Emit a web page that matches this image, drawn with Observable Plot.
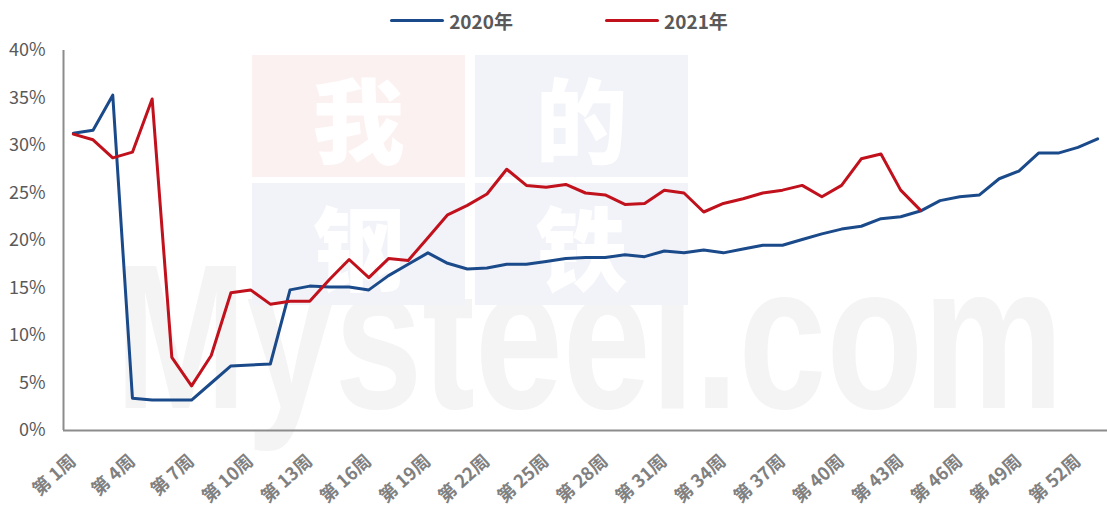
<!DOCTYPE html>
<html>
<head>
<meta charset="utf-8">
<script src="https://cdn.jsdelivr.net/npm/d3@7"></script>
<script src="https://cdn.jsdelivr.net/npm/@observablehq/plot@0.6"></script>
<style>
  html, body { margin: 0; padding: 0; background: #fff; }
  body { width: 1107px; height: 508px; position: relative; overflow: hidden;
         font-family: "Noto Sans CJK SC", "Noto Sans", sans-serif; }
  #legend { position: absolute; left: 0; top: 0; width: 1107px; height: 40px; z-index: 2;
            display: flex; justify-content: center; align-items: center;
            gap: 92px; font-size: 19px; font-weight: 600; color: #595959; padding-left: 11px; box-sizing: border-box; }
  .item { display: flex; align-items: center; gap: 5px; }
  .sw { width: 54px; height: 3px; border-radius: 2px; }
  #wm { position: absolute; left: 0; top: 0; width: 1107px; height: 508px; z-index: 0; pointer-events: none; }
  .box { position: absolute; width: 213px; height: 122px; display: flex; align-items: center; justify-content: center;
         color: #fff; font-size: 92px; font-weight: 900; line-height: 1; }
  #mys { position: absolute; left: 115px; top: 234px; font-size: 158px; font-weight: 700; color: #f4f4f4;
         font-family: "Liberation Sans", Arial, sans-serif; line-height: 1; white-space: nowrap;
         transform: scaleY(1.3); transform-origin: top left; }
  #chart { position: absolute; left: 0; top: 0; z-index: 1; }
</style>
</head>
<body>
<div id="wm">
  <div id="mys">Mysteel.com</div>
  <div class="box" style="left:252px;top:55px;background:#fcf1f1;">我</div>
  <div class="box" style="left:475px;top:55px;background:#f2f3f8;">的</div>
  <div class="box" style="left:252px;top:183px;background:#f2f3f8;">钢</div>
  <div class="box" style="left:475px;top:183px;background:#f2f3f8;">铁</div>
</div>
<div id="chart"></div>
<div id="legend"></div>
<script>
const weeks2020 = d3.range(1, 54);
const weeks2021 = d3.range(1, 45);
const values2020 = [31.3, 31.6, 35.3, 3.4, 3.2, 3.2, 3.2, 5.0, 6.8, 6.9,
  7.0, 14.8, 15.2, 15.1, 15.1, 14.8, 16.3, 17.5, 18.7, 17.6,
  17.0, 17.1, 17.5, 17.5, 17.8, 18.1, 18.2, 18.2, 18.5, 18.3,
  18.9, 18.7, 19.0, 18.7, 19.1, 19.5, 19.5, 20.1, 20.7, 21.2,
  21.5, 22.3, 22.5, 23.1, 24.2, 24.6, 24.8, 26.5, 27.3, 29.2,
  29.2, 29.8, 30.7];
const values2021 = [31.2, 30.6, 28.7, 29.3, 34.9, 7.7, 4.7, 7.9, 14.5, 14.8,
  13.3, 13.6, 13.6, 15.9, 18.0, 16.1, 18.1, 17.9, 20.3, 22.7,
  23.7, 24.9, 27.5, 25.8, 25.6, 25.9, 25.0, 24.8, 23.8, 23.9,
  25.3, 25.0, 23.0, 23.9, 24.4, 25.0, 25.3, 25.8, 24.6, 25.8,
  28.6, 29.1, 25.3, 23.2];
const seriesNames = ["2020年", "2021年"];
const seriesColors = ["#1b4a8a", "#c0111c"];
const tickWeeks = d3.range(1, 54, 3);
const yTicks = [0, 5, 10, 15, 20, 25, 30, 35, 40];

const rows = [
  ...weeks2020.map((w, i) => ({week: w, value: values2020[i], series: seriesNames[0]})),
  ...weeks2021.map((w, i) => ({week: w, value: values2021[i], series: seriesNames[1]}))
];

// legend
const legend = document.getElementById("legend");
seriesNames.forEach((n, i) => {
  const it = document.createElement("div");
  it.className = "item";
  it.innerHTML = `<span class="sw" style="background:${seriesColors[i]}"></span><span>${n}</span>`;
  legend.appendChild(it);
});

const chart = Plot.plot({
  width: 1107,
  height: 508,
  marginTop: 50,
  marginBottom: 78,
  marginLeft: 63,
  marginRight: 0,
  style: {background: "transparent", fontFamily: "'Noto Sans CJK SC', 'Noto Sans', sans-serif", color: "#595959"},
  x: {domain: [0.5, 53.5], label: null},
  y: {domain: [0, 40], label: null},
  color: {domain: seriesNames, range: seriesColors},
  marks: [
    Plot.axisY({ticks: yTicks, tickFormat: d => `${d}%`, tickSize: 0, tickPadding: 18, fontSize: 18, label: null, fill: "#595959"}),
    Plot.axisX({ticks: tickWeeks, tickFormat: d => `第 ${d}周`, tickSize: 0, tickPadding: 28, tickRotate: -42, fontSize: 18, fontWeight: "bold", label: null, fill: "#808080"}),
    Plot.ruleY([0], {stroke: "#8c8c8c", strokeWidth: 2}),
    Plot.ruleX([0.5], {y1: 0, y2: 40, stroke: "#8c8c8c", strokeWidth: 2}),
    Plot.line(rows, {x: "week", y: "value", z: "series", stroke: "series", strokeWidth: 3, strokeLinejoin: "round", strokeLinecap: "round"})
  ]
});
document.getElementById("chart").appendChild(chart);
</script>
</body>
</html>
